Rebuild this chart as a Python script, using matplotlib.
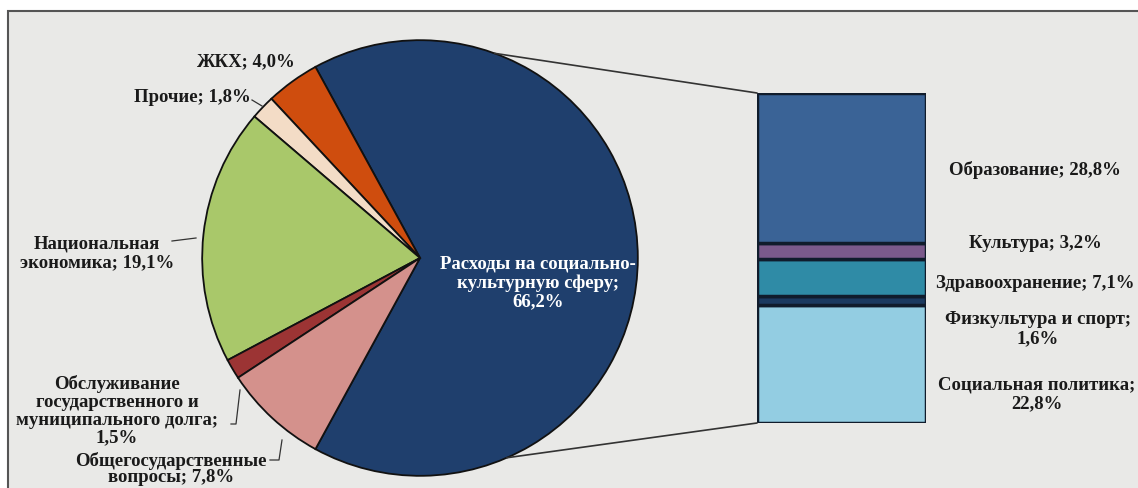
import matplotlib
matplotlib.use("Agg")
import matplotlib.pyplot as plt
from matplotlib.patches import Rectangle, ConnectionPatch
from matplotlib.lines import Line2D
import numpy as np

# ---- data ----
pie_labels = ["Расходы на социально-\nкультурную сферу;\n66,2%", "ЖКХ; 4,0%", "Прочие; 1,8%",
              "Национальная\nэкономика; 19,1%",
              "Обслуживание\nгосударственного и\nмуниципального долга;\n1,5%",
              "Общегосударственные\nвопросы; 7,8%"]
pie_values = [66.2, 4.0, 1.8, 19.1, 1.5, 7.8]
pie_colors = ["#1f3f6d", "#cf4d0e", "#f3dcc6", "#a9c86a", "#9c3434", "#d4918c"]

bar_labels = ["Социальная политика;\n22,8%", "Физкультура и спорт;\n1,6%", "Здравоохранение; 7,1%",
              "Культура; 3,2%", "Образование; 28,8%"]
bar_values = [22.8, 1.6, 7.1, 3.2, 28.8]
bar_colors = ["#93cde2", "#1b3a60", "#2f8ba6", "#7b5a8c", "#3a6396"]

W, H = 1138, 488
fig = plt.figure(figsize=(W / 100, H / 100), dpi=100)
fig.patch.set_facecolor("white")

FONT = dict(family="Liberation Serif", weight="bold", fontsize=13.5)

# background axes in pixel coordinates
bg = fig.add_axes([0, 0, 1, 1])
bg.set_xlim(0, W)
bg.set_ylim(H, 0)
bg.axis("off")
bg.add_patch(Rectangle((8, 11), W + 20, H + 20, facecolor="#e9e9e7", edgecolor="#555555", lw=1.5))

# ---- pie ----
cx, cy, r = 420, 258, 220
pax = fig.add_axes([(cx - r) / W, (H - cy - r) / H, 2 * r / W, 2 * r / H])
total = sum(pie_values)
start = -pie_values[0] / total * 360 / 2
wedges, _ = pax.pie(pie_values, colors=pie_colors, startangle=start, counterclock=True,
                    radius=1, wedgeprops=dict(edgecolor="#111111", linewidth=1.3))
pax.set_xlim(-1.01, 1.01)
pax.set_ylim(-1.01, 1.01)
pax.axis("off")

# ---- bar ----
bx0, bx1, by0, by1 = 757, 926, 93, 423
bax = fig.add_axes([bx0 / W, (H - by1) / H, (bx1 - bx0) / W, (by1 - by0) / H])
bottom = 0
for v, c in zip(bar_values, bar_colors):
    bax.bar(0, v, bottom=bottom, width=1, color=c, edgecolor="#101c2c", linewidth=2.5)
    bottom += v
bax.set_xlim(-0.5, 0.5)
bax.set_ylim(0, sum(bar_values))
bax.axis("off")

# connector lines from pie to bar
for ang, ycorner in [(70, sum(bar_values)), (-66.5, 0)]:
    a = np.deg2rad(ang)
    con = ConnectionPatch(xyA=(np.cos(a), np.sin(a)), coordsA=pax.transData,
                          xyB=(-0.5, ycorner), coordsB=bax.transData,
                          color="#333333", lw=1.2)
    fig.add_artist(con)

# ---- labels (pixel coordinates) ----
fr = fig.add_axes([0, 0, 1, 1])
fr.set_xlim(0, W)
fr.set_ylim(H, 0)
fr.axis("off")
fr.patch.set_alpha(0)

def T(x, y, s, color="#1a1a1a", ha="center", ls=1.12):
    fr.text(x, y, s, ha=ha, va="center", color=color, linespacing=ls, **FONT)

T(538, 283, pie_labels[0], color="white")
T(245, 62, pie_labels[1])
T(192, 97, pie_labels[2])
T(97, 253, pie_labels[3])
T(117, 411, pie_labels[4], ls=1.06)
T(171, 469, pie_labels[5], ls=1.0)

T(1035, 170, bar_labels[4])
T(1035, 243, bar_labels[3])
T(1035, 283, bar_labels[2])
T(1038, 329, bar_labels[1])
T(1037, 394, bar_labels[0])

# leader lines
for xs, ys in [([252, 262], [100, 106]),
               ([231, 236, 240], [424, 424, 390]),
               ([172, 196], [241, 238]),
               ([270, 279, 282], [460, 460, 440])]:
    fr.add_line(Line2D(xs, ys, color="#333333", lw=0.9))

fig.savefig("out.png", dpi=100)
